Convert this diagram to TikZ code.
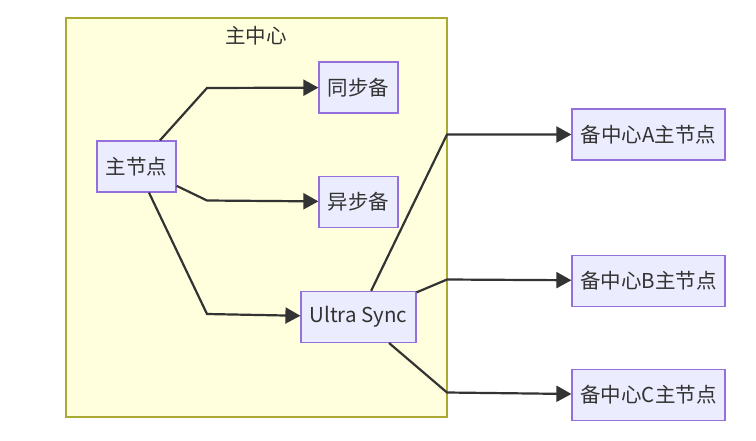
\documentclass[tikz,border=0pt]{standalone}
\usepackage{fontspec}
\setmainfont{Noto Sans CJK SC}
\usetikzlibrary{positioning}
\usetikzlibrary{arrows.meta}
\definecolor{nodefill}{HTML}{ECECFF}
\definecolor{nodeline}{HTML}{9370DB}
\definecolor{clusterfill}{HTML}{FFFFDE}
\definecolor{clusterline}{HTML}{AAAA33}
\definecolor{edgecol}{HTML}{333333}
\tikzset{
    box/.style={draw=nodeline, fill=nodefill, line width=1.2pt, minimum height=51pt,
        inner sep=0pt, text=edgecol, font=\fontsize{20.5}{24}\selectfont},
    link/.style={draw=edgecol, line width=2.2pt, -{Triangle[length=15pt,width=16pt]}},
}
\begin{document}
\begin{tikzpicture}[x=1pt,y=-1pt]
    \useasboundingbox (0,0) rectangle (756,440);
    %% cluster
    \node[draw=clusterline, fill=clusterfill, line width=1.2pt, minimum width=381pt,
        minimum height=399pt] (zhongxin) at (256.5,217.5) {};
    \node[text=edgecol, font=\fontsize{20.5}{24}\selectfont] (title) at (256,36) {主中心};
    %% nodes inside
    \node[box, minimum width=79pt] (zhu) at (136.5,166.5) {主节点};
    \node[box, minimum width=79pt] (tong) at (358.5,87.5) {同步备};
    \node[box, minimum width=79pt, below=62pt of tong] (yi) {异步备};
    \node[box, minimum width=115pt, below=63pt of yi] (ultra) {Ultra Sync};
    %% backup centers
    \node[box, minimum width=153pt] (bA) at (648.5,134.5) {备中心A主节点};
    \node[box, minimum width=153pt, below=94pt of bA] (bB) {备中心B主节点};
    \node[box, minimum width=153pt, below=62pt of bB] (bC) {备中心C主节点};
    % 连线
    \draw[link] (zhu) -- (207,88) -- (tong);
    \draw[link] (zhu) -- (207,200.5) -- (yi);
    \draw[link] (zhu) -- (207,314) -- (ultra);
    \draw[link] (ultra) -- (447,134.5) -- (bA);
    \draw[link] (ultra) -- (447,279.5) -- (bB);
    \draw[link] (ultra) -- (447,392.5) -- (bC);
\end{tikzpicture}
\end{document}
